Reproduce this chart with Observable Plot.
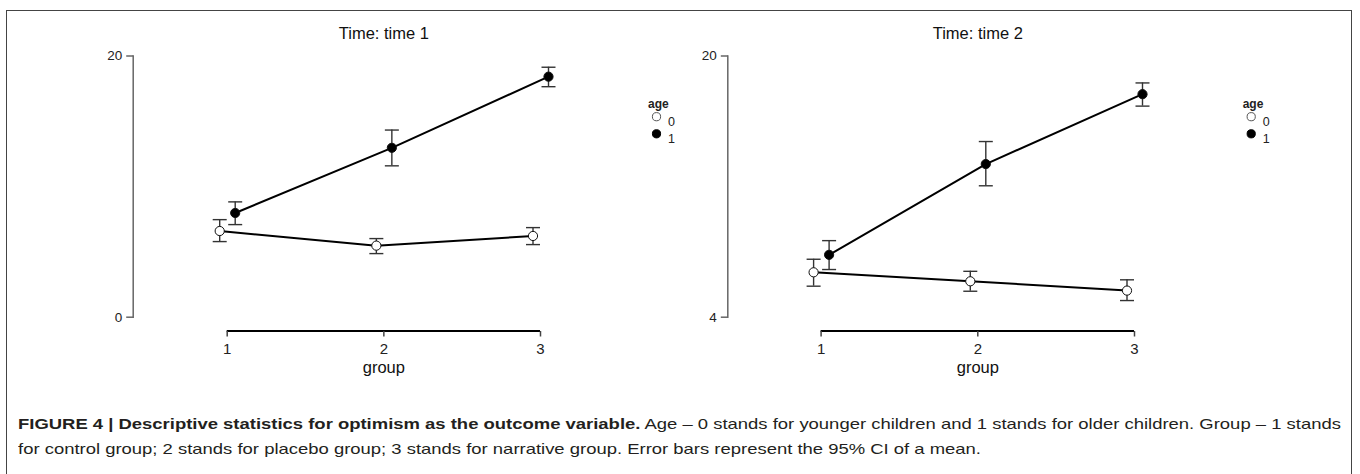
<!DOCTYPE html>
<html>
<head>
<meta charset="utf-8">
<script src="https://cdn.jsdelivr.net/npm/d3@7"></script>
<script src="https://cdn.jsdelivr.net/npm/@observablehq/plot@0.6"></script>
<style>
  html, body { margin: 0; padding: 0; background: #fff; width: 1360px; height: 474px; overflow: hidden; }
  #box { position: absolute; left: 6px; top: 10px; width: 1346px; height: 480px; border: 1px solid #444; box-sizing: border-box; }
  #p1 { position: absolute; left: 7px; top: 11px; }
  #p2 { position: absolute; left: 680px; top: 11px; }
  #caption { position: absolute; left: 18px; top: 411px; font-family: "Liberation Sans", Arial, sans-serif; font-size: 15px; line-height: 25px; color: #231f20; white-space: nowrap; transform: scaleX(1.23); transform-origin: 0 0; }
  #caption b { font-weight: bold; }
</style>
</head>
<body>
<div id="box"></div>
<div id="p1"></div>
<div id="p2"></div>
<div id="caption"><b>FIGURE 4 | Descriptive statistics for optimism as the outcome variable.</b> Age – 0 stands for younger children and 1 stands for older children. Group – 1 stands<br>for control group; 2 stands for placebo group; 3 stands for narrative group. Error bars represent the 95% CI of a mean.</div>
<script>
// ---- data ----
const groups = [1, 2, 3];
const ages = ["0", "1"];

// Time 1
const t1Age0Mean = [6.60, 5.48, 6.22];
const t1Age0Lo   = [5.79, 4.87, 5.56];
const t1Age0Hi   = [7.47, 6.02, 6.86];
const t1Age1Mean = [7.98, 12.97, 18.42];
const t1Age1Lo   = [7.09, 11.59, 17.65];
const t1Age1Hi   = [8.83, 14.33, 19.14];

// Time 2
const t2Age0Mean = [6.75, 6.20, 5.63];
const t2Age0Lo   = [5.90, 5.59, 5.02];
const t2Age0Hi   = [7.55, 6.81, 6.29];
const t2Age1Mean = [7.82, 13.38, 17.66];
const t2Age1Lo   = [6.92, 12.05, 16.93];
const t2Age1Hi   = [8.69, 14.76, 18.35];

const t1YTicks = [0, 20];
const t2YTicks = [4, 20];
const titles = ["Time: time 1", "Time: time 2"];
const xLabel = "group";
const legendTitle = "age";

// ---- helpers ----
function rows(mean, lo, hi) {
  return groups.map((g, i) => ({group: g, mean: mean[i], lo: lo[i], hi: hi[i]}));
}
const capSymbol = {
  draw(ctx, size) {
    const w = Math.sqrt(size / Math.PI);
    ctx.moveTo(-w, 0);
    ctx.lineTo(w, 0);
  }
};
const tickDown = {
  draw(ctx, size) {
    const w = Math.sqrt(size / Math.PI);
    ctx.moveTo(0, 0);
    ctx.lineTo(0, w);
  }
};
const tickLeft = {
  draw(ctx, size) {
    const w = Math.sqrt(size / Math.PI);
    ctx.moveTo(0, 0);
    ctx.lineTo(-w, 0);
  }
};
function seriesMarks(data, dx) {
  return [
    Plot.ruleX(data, {x: "group", y1: "lo", y2: "hi", dx, stroke: "#333", strokeWidth: 1.4}),
    Plot.dot(data, {x: "group", y: "lo", dx, symbol: capSymbol, r: 7, fill: "none", stroke: "#333", strokeWidth: 1.4}),
    Plot.dot(data, {x: "group", y: "hi", dx, symbol: capSymbol, r: 7, fill: "none", stroke: "#333", strokeWidth: 1.4})
  ];
}
function lineMarks(data, dx) {
  return Plot.line(data, {x: "group", y: "mean", dx, stroke: "#000", strokeWidth: 2});
}
function pointMarks(data, dx, fill) {
  return Plot.dot(data, {x: "group", y: "mean", dx, r: 4.6, fill, stroke: "#111", strokeWidth: 1});
}

const FONT = "'Liberation Sans', Arial, sans-serif";

function panel({title, yTicks, age0, age1, marginLeft, xRange, marginRight}) {
  const W = 673, H = 375, mTop = 44.5, mBottom = 69.3;
  const axisDy = 13.8;
  return Plot.plot({
    width: W, height: H,
    marginLeft, marginRight, marginTop: mTop, marginBottom: mBottom,
    style: {background: "transparent", color: "#222", fontFamily: FONT, fontSize: "14px", overflow: "visible"},
    x: {domain: [groups[0], groups[groups.length - 1]], range: xRange, axis: null},
    y: {domain: [yTicks[0], yTicks[yTicks.length - 1]], axis: null},
    marks: [
      // y axis
      Plot.frame({anchor: "left", stroke: "#666", strokeWidth: 1.5}),
      Plot.dot(yTicks, {y: d => d, frameAnchor: "left", symbol: tickLeft, r: 7, fill: "none", stroke: "#666", strokeWidth: 1.5}),
      Plot.text(yTicks, {y: d => d, text: d => String(d), frameAnchor: "left", dx: -11, textAnchor: "end", fontSize: 13.5, fill: "#222"}),
      // x axis
      Plot.ruleY([yTicks[0]], {x1: groups[0], x2: groups[groups.length - 1], dy: axisDy, stroke: "#000", strokeWidth: 2}),
      Plot.dot(groups, {x: d => d, frameAnchor: "bottom", dy: axisDy, symbol: tickDown, r: 5.5, fill: "none", stroke: "#444", strokeWidth: 1.5}),
      Plot.text(groups, {x: d => d, text: d => String(d), frameAnchor: "bottom", dy: 37, fontSize: 15, fill: "#222"}),
      Plot.text([xLabel], {x: [groups[1]], frameAnchor: "bottom", dy: 56, fontSize: 16.5, fill: "#111"}),
      // title
      Plot.text([title], {x: [groups[1]], frameAnchor: "top", dy: -29, fontSize: 16.5, fill: "#111"}),
      // error bars, lines, points
      ...seriesMarks(age0, -7.5),
      ...seriesMarks(age1, 8),
      lineMarks(age0, -7.5),
      lineMarks(age1, 8),
      pointMarks(age0, -7.5, "#fff"),
      pointMarks(age1, 8, "#000"),
      // legend
      Plot.text([legendTitle], {frameAnchor: "top-right", dx: -8.5, dy: 43.5, textAnchor: "start", fontSize: 12, fontWeight: "bold", fill: "#222"}),
      Plot.dot([ages[0]], {frameAnchor: "top-right", dy: 60.7, r: 4.1, fill: "#fff", stroke: "#555", strokeWidth: 1}),
      Plot.dot([ages[1]], {frameAnchor: "top-right", dy: 77.8, r: 4.1, fill: "#000", stroke: "#000", strokeWidth: 1}),
      Plot.text([ages[0]], {frameAnchor: "top-right", dx: 11.5, dy: 60.7, textAnchor: "start", fontSize: 12.5, fill: "#222"}),
      Plot.text([ages[1]], {frameAnchor: "top-right", dx: 11.5, dy: 77.8, textAnchor: "start", fontSize: 12.5, fill: "#222"})
    ]
  });
}

document.getElementById("p1").appendChild(panel({
  title: titles[0], yTicks: t1YTicks,
  age0: rows(t1Age0Mean, t1Age0Lo, t1Age0Hi),
  age1: rows(t1Age1Mean, t1Age1Lo, t1Age1Hi),
  marginLeft: 125.7, xRange: [219.7, 533], marginRight: 24
}));
document.getElementById("p2").appendChild(panel({
  title: titles[1], yTicks: t2YTicks,
  age0: rows(t2Age0Mean, t2Age0Lo, t2Age0Hi),
  age1: rows(t2Age1Mean, t2Age1Lo, t2Age1Hi),
  marginLeft: 47.3, xRange: [140.6, 454], marginRight: 102.3
}));
</script>
</body>
</html>
